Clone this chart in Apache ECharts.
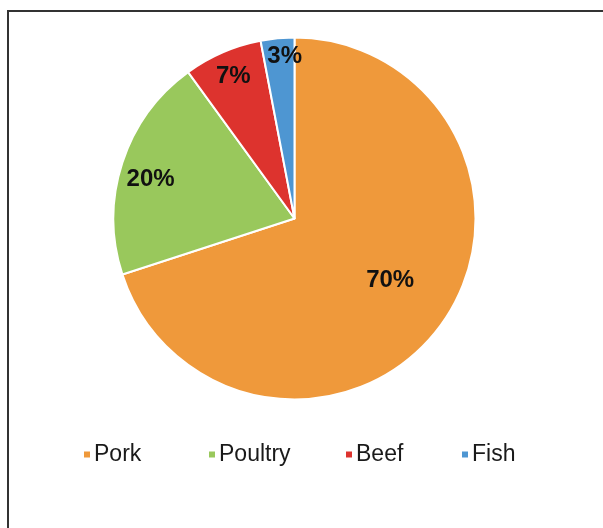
<!DOCTYPE html>
<html>
<head>
<meta charset="utf-8">
<script src="https://cdn.jsdelivr.net/npm/echarts@6/dist/echarts.min.js"></script>
<style>
  html, body { margin: 0; padding: 0; background: #ffffff; }
  #chart { width: 603px; height: 528px; }
</style>
</head>
<body>
<div id="chart"></div>
<script>
// Meat consumption shares (percent)
const categories = ['Pork', 'Poultry', 'Beef', 'Fish'];
const shares = [70, 20, 7, 3];
const colors = ['#EF993B', '#99C85C', '#DD332E', '#4E96D2'];

// Label nudges away from the default mid-radius spot, per slice
const labelOffsets = [[20, 7], [-55, -10], [-24, -56], [-1, -69]];
// Left edge of each legend entry
const legendLefts = [82, 207, 344, 460];

const chart = echarts.init(document.getElementById('chart'), null, { renderer: 'canvas' });

const legends = categories.map((name, i) => ({
  data: [name],
  left: legendLefts[i],
  top: 443,
  padding: 0,
  itemWidth: 8,
  itemHeight: 8,
  icon: 'rect',
  selectedMode: false,
  textStyle: {
    fontFamily: 'Liberation Sans, Arial, sans-serif',
    fontSize: 23,
    color: '#1a1a1a',
    padding: [0, 0, 7, -2]
  }
}));

chart.setOption({
  animation: false,
  color: colors,
  legend: legends,
  graphic: [{
    type: 'rect',
    shape: { x: 8, y: 11, width: 640, height: 560 },
    style: { fill: 'none', stroke: '#333333', lineWidth: 2 },
    silent: true,
    z: 10
  }],
  series: [{
    type: 'pie',
    center: [294.5, 218.5],
    radius: [0, 181],
    startAngle: 90,
    clockwise: true,
    silent: true,
    itemStyle: { borderColor: '#ffffff', borderWidth: 2 },
    label: {
      show: true,
      position: 'inside',
      formatter: p => p.value + '%',
      fontFamily: 'Liberation Sans, Arial, sans-serif',
      fontWeight: 'bold',
      fontSize: 24,
      color: '#111111'
    },
    labelLine: { show: false },
    data: categories.map((name, i) => ({
      name: name,
      value: shares[i],
      label: { offset: labelOffsets[i] }
    }))
  }]
});
</script>
</body>
</html>
